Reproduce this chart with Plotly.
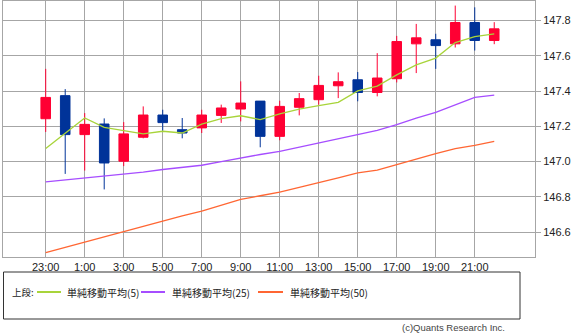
import plotly.graph_objects as go

# ---- data ----
hours = ["23:00", "0:00", "1:00", "2:00", "3:00", "4:00", "5:00", "6:00", "7:00", "8:00",
         "9:00", "10:00", "11:00", "12:00", "13:00", "14:00", "15:00", "16:00", "17:00",
         "18:00", "19:00", "20:00", "21:00", "22:00"]
open_ = [147.243, 147.374, 147.153, 147.213, 147.002, 147.138, 147.264, 147.181, 147.191, 147.262,
         147.298, 147.343, 147.143, 147.308, 147.351, 147.430, 147.464, 147.392, 147.470, 147.668,
         147.691, 147.668, 147.789, 147.687]
high = [147.526, 147.411, 147.275, 147.245, 147.224, 147.313, 147.294, 147.247, 147.294, 147.323,
        147.455, 147.343, 147.345, 147.389, 147.487, 147.506, 147.508, 147.615, 147.713, 147.781,
        147.725, 147.885, 147.875, 147.791]
low = [147.168, 146.930, 146.949, 146.842, 146.974, 147.132, 147.175, 147.132, 147.162, 147.219,
       147.228, 147.081, 147.121, 147.262, 147.323, 147.360, 147.342, 147.370, 147.449, 147.502,
       147.526, 147.647, 147.630, 147.666]
close = [147.364, 147.153, 147.211, 146.992, 147.157, 147.264, 147.221, 147.162, 147.264, 147.304,
         147.332, 147.143, 147.313, 147.357, 147.432, 147.453, 147.392, 147.474, 147.681, 147.702,
         147.658, 147.789, 147.687, 147.753]
ma5 = [147.074, 147.162, 147.247, 147.194, 147.175, 147.157, 147.172, 147.162, 147.212, 147.243,
       147.260, 147.238, 147.270, 147.298, 147.317, 147.336, 147.401, 147.428, 147.492, 147.549,
       147.587, 147.675, 147.709, 147.725]
ma25 = [146.885, 146.896, 146.906, 146.915, 146.926, 146.940, 146.955, 146.968, 146.979, 147.000,
        147.021, 147.040, 147.058, 147.081, 147.106, 147.128, 147.153, 147.177, 147.209, 147.247,
        147.279, 147.323, 147.364, 147.377]
ma50 = [146.483, 146.513, 146.545, 146.575, 146.606, 146.636, 146.666, 146.692, 146.719, 146.753,
        146.785, 146.806, 146.826, 146.853, 146.879, 146.908, 146.936, 146.951, 146.983, 147.015,
        147.045, 147.074, 147.092, 147.115]
y_ticks = [146.6, 146.8, 147.0, 147.2, 147.4, 147.6, 147.8]
legend_labels = ["単純移動平均(5)", "単純移動平均(25)", "単純移動平均(50)"]

idx = list(range(len(hours)))
x_tickvals = idx[::2]
x_ticktext = hours[::2]

RED = "#ff0033"
BLUE = "#003399"
GREEN = "#a8d43a"
PURPLE = "#a64dff"
ORANGE = "#ff6633"
GRID = "#a6a6a6"

W, H = 586, 333
ML, MR, MT, MB = 3, 51, 1, 76
PW = W - ML - MR
PH = H - MT - MB

def px(x):
    return (x - ML) / PW

def py(y):
    return (H - MB - y) / PH

fig = go.Figure()
fig.add_trace(go.Scatter(x=idx, y=ma50, mode="lines", line=dict(color=ORANGE, width=1.3), hoverinfo="skip"))
fig.add_trace(go.Scatter(x=idx, y=ma25, mode="lines", line=dict(color=PURPLE, width=1.3), hoverinfo="skip"))
fig.add_trace(go.Candlestick(
    x=idx, open=open_, high=high, low=low, close=close,
    increasing=dict(line=dict(color=RED, width=1), fillcolor=RED),
    decreasing=dict(line=dict(color=BLUE, width=1), fillcolor=BLUE),
    whiskerwidth=0,
))
fig.add_trace(go.Scatter(x=idx, y=ma5, mode="lines", line=dict(color=GREEN, width=1.3), hoverinfo="skip"))

fig.update_layout(
    width=W, height=H,
    margin=dict(l=ML, r=MR, t=MT, b=MB),
    paper_bgcolor="white", plot_bgcolor="white",
    showlegend=False,
    font=dict(family="Liberation Sans, Arial, sans-serif", size=11, color="#222222"),
    xaxis=dict(
        range=[-2.19, 25.09], tickvals=x_tickvals, ticktext=x_ticktext,
        showgrid=True, gridcolor=GRID, gridwidth=1,
        showline=True, linecolor=GRID, mirror=True,
        ticks="", rangeslider=dict(visible=False), zeroline=False,
        tickfont=dict(size=11),
    ),
    yaxis=dict(
        range=[146.4585, 147.911], side="right", tickvals=y_ticks,
        ticktext=[f"{v:.1f}" for v in y_ticks],
        showgrid=True, gridcolor=GRID, gridwidth=1,
        showline=True, linecolor=GRID, mirror=True,
        ticks="outside", ticklen=5, tickcolor=GRID, zeroline=False,
        tickfont=dict(size=11),
    ),
)

# legend box
fig.add_shape(type="rect", xref="paper", yref="paper",
              x0=px(3.5), x1=px(520), y0=py(319), y1=py(272),
              line=dict(color="#333333", width=1), fillcolor="white")
ly = py(292)
fig.add_annotation(x=px(10), y=ly, xref="paper", yref="paper", text="上段:",
                   showarrow=False, xanchor="left", yanchor="middle",
                   font=dict(family="Noto Sans CJK JP", size=9.5, color="#222222"))
items = [(37, 61, 65, GREEN), (141, 165, 170, PURPLE), (258, 283, 288, ORANGE)]
for (x0, x1, tx, col), lab in zip(items, legend_labels):
    fig.add_shape(type="line", xref="paper", yref="paper", x0=px(x0), x1=px(x1), y0=ly, y1=ly,
                  line=dict(color=col, width=2))
    fig.add_annotation(x=px(tx), y=ly, xref="paper", yref="paper", text=lab,
                       showarrow=False, xanchor="left", yanchor="middle",
                       font=dict(family="Noto Sans CJK JP", size=10, color="#222222"))

fig.add_annotation(x=px(507), y=py(327), xref="paper", yref="paper",
                   text="(c)Quants Research Inc.", showarrow=False,
                   xanchor="right", yanchor="middle",
                   font=dict(family="Liberation Sans, Arial, sans-serif", size=9.5, color="#444444"))

fig.write_html("out.html")
